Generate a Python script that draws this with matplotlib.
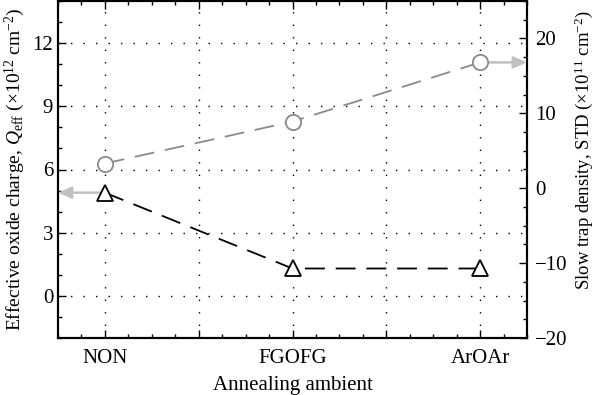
import matplotlib
matplotlib.use("Agg")
import matplotlib.pyplot as plt
from matplotlib.ticker import MultipleLocator, FixedLocator

plt.rcParams['font.family'] = ['Liberation Serif', 'DejaVu Serif']
plt.rcParams['mathtext.fontset'] = 'custom'
plt.rcParams['mathtext.rm'] = 'Liberation Serif'
plt.rcParams['mathtext.it'] = 'Liberation Serif:italic'

categories = ["NON", "FGOFG", "ArOAr"]
qeff = [4.9, 1.3, 1.3]        # left axis, x10^12 cm^-2
std = [3.3, 8.9, 16.8]        # right axis, x10^11 cm^-2
left_ticks = [0, 3, 6, 9, 12]
right_ticks = [-20, -10, 0, 10, 20]

x = [1, 2, 3]
fs = 15

fig = plt.figure(figsize=(6.0, 3.95), dpi=100)
ax = fig.add_axes([58/600, 1-338/395, (527-58)/600, (338-1)/395])
ax2 = ax.twinx()

ax.set_xlim(0.75, 3.25)
ax.set_ylim(-2, 14)
ax2.set_ylim(-20, 25)

ax.xaxis.set_minor_locator(MultipleLocator(0.125))
ax.yaxis.set_major_locator(FixedLocator(left_ticks))
ax.yaxis.set_minor_locator(MultipleLocator(1))
ax.grid(True, which='major', linestyle=(0, (1, 8)), color='black', linewidth=1.0)
ax.set_xticks([1, 1.5, 2, 2.5, 3])
ax.set_xticklabels([categories[0], "", categories[1], "", categories[2]])

ax2.yaxis.set_major_locator(FixedLocator(right_ticks))
ax2.yaxis.set_minor_locator(MultipleLocator(2.5))

for a in (ax, ax2):
    a.tick_params(which='major', direction='in', length=6, width=1.0, labelsize=fs)
    a.tick_params(which='minor', direction='in', length=3, width=1.0)
ax.tick_params(which='both', top=True, right=False)
ax.tick_params(axis='x', which='major', pad=8)
ax2.tick_params(axis='y', which='major', pad=6)
for s in ax.spines.values():
    s.set_linewidth(1.5)
for s in ax2.spines.values():
    s.set_linewidth(1.5)

# data
ax.plot(x, qeff, linestyle=(0, (11, 6)), color='black', linewidth=1.3,
        marker='^', markersize=12, markerfacecolor='white', markeredgecolor='black',
        markeredgewidth=1.3, zorder=5, clip_on=False)
ax2.plot(x, std, linestyle=(0, (11, 6)), color='#8a8a8a', linewidth=1.3,
         marker='o', markersize=11, markerfacecolor='white', markeredgecolor='#8a8a8a',
         markeredgewidth=1.3, zorder=5, clip_on=False)

# arrows
ax.annotate('', xy=(0.75, qeff[0]), xytext=(x[0], qeff[0]),
            arrowprops=dict(arrowstyle='-|>,head_length=0.8,head_width=0.35',
                            color='#c0c0c0', lw=1.8, shrinkA=0, shrinkB=0), zorder=3)
ax2.annotate('', xy=(3.25, std[2]), xytext=(x[2], std[2]),
             arrowprops=dict(arrowstyle='-|>,head_length=0.8,head_width=0.35',
                             color='#c0c0c0', lw=1.8, shrinkA=0, shrinkB=0), zorder=3)

ax.set_xlabel("Annealing ambient", fontsize=fs, labelpad=6)
ax.set_ylabel(r"Effective oxide charge, $Q_{\mathrm{eff}}$ (×10$^{12}$ cm$^{-2}$)",
              fontsize=14, labelpad=4)
ax2.set_ylabel(r"Slow trap density, STD (×10$^{11}$ cm$^{-2}$)", fontsize=13.5)
ax2.yaxis.set_label_coords(1.098, 0.558)

fig.savefig("out.png", dpi=100)
